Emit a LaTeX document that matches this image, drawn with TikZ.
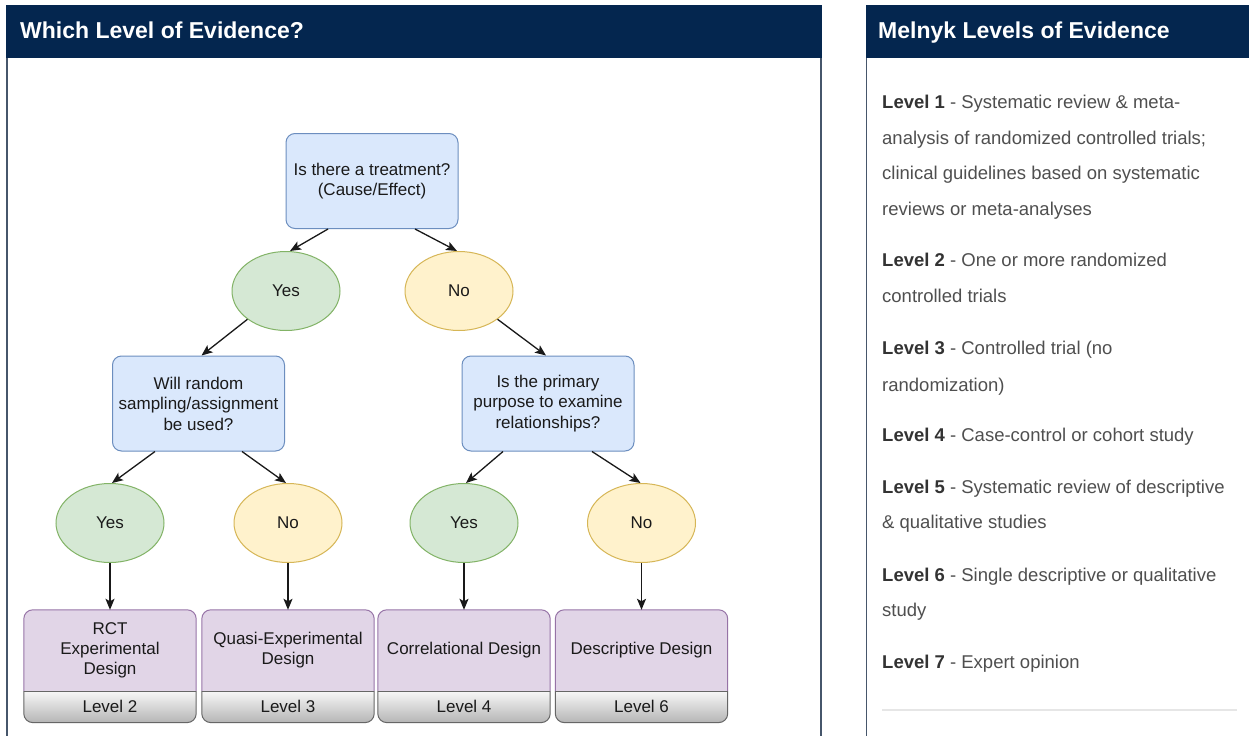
\documentclass[tikz,border=0pt]{standalone}
\usepackage{fontspec}
\setmainfont{Liberation Sans}
\usetikzlibrary{arrows.meta,calc,shapes.geometric}
\definecolor{navy}{HTML}{04264F}
\definecolor{panelborder}{HTML}{46566B}
\definecolor{qfill}{HTML}{DAE8FC}\definecolor{qdraw}{HTML}{6C8EBF}
\definecolor{yfill}{HTML}{D5E8D4}\definecolor{ydraw}{HTML}{82B366}
\definecolor{nfill}{HTML}{FFF2CC}\definecolor{ndraw}{HTML}{D6B656}
\definecolor{pfill}{HTML}{E1D5E7}\definecolor{pdraw}{HTML}{9673A6}
\definecolor{gtop}{HTML}{F7F7F7}\definecolor{gbot}{HTML}{B5B5B5}
\definecolor{gdraw}{HTML}{666666}
\definecolor{txtdark}{HTML}{1A1A1A}
\definecolor{lvbold}{HTML}{333333}
\definecolor{lvtext}{HTML}{4F4F4F}
\definecolor{sepline}{HTML}{E6E6E6}
\newcommand{\designbox}[4]{%
  \node[designpart] (#1) at (#2,650.5) {};
  \node[levelpart, anchor=north] (#1l) at (#1.south) {};
  \begin{scope}
    \clip[rounded corners=9pt] (#1.north west) rectangle (#1l.south east);
    \fill[pfill] (#1.north west) rectangle (#1.south east);
    \shade[top color=gtop, bottom color=gbot] (#1l.north west) rectangle (#1l.south east);
  \end{scope}
  \draw[pdraw, line width=1pt, rounded corners=9pt] (#1.south west) -- (#1.north west) -- (#1.north east) -- (#1.south east);
  \draw[gdraw, line width=1pt, rounded corners=9pt] (#1l.north west) -- (#1l.south west) -- (#1l.south east) -- (#1l.north east);
  \draw[gdraw, line width=1pt] (#1l.north west) -- (#1l.north east);
  \node[designpart] (#1t) at (#1.center) {#3};
  \node[levelpart] (#1lt) at (#1l.center) {#4};
}
\begin{document}
\begin{tikzpicture}[x=1pt,y=-1pt,
  question/.style={draw=qdraw, fill=qfill, rounded corners=9pt, line width=1pt,
    minimum width=172pt, minimum height=95pt, align=center,
    font=\fontsize{17}{20.5}\selectfont, text=txtdark, inner sep=0pt},
  yesnode/.style={ellipse, draw=ydraw, fill=yfill, line width=1pt,
    minimum width=108pt, minimum height=79pt, inner sep=0pt,
    font=\fontsize{17}{20}\selectfont, text=txtdark},
  nonode/.style={yesnode, draw=ndraw, fill=nfill},
  designpart/.style={minimum width=172pt, minimum height=81pt, inner sep=0pt,
    align=center, font=\fontsize{17}{20}\selectfont, text=txtdark},
  levelpart/.style={minimum width=172pt, minimum height=31pt, inner sep=0pt,
    font=\fontsize{17}{20}\selectfont, text=txtdark},
  flow/.style={-{Stealth[length=11pt,width=9pt,inset=2.5pt]}, line width=1.3pt, draw=black!90},
  titletext/.style={font=\fontsize{23}{26}\selectfont\bfseries, text=white,
    anchor=base west, inner sep=0pt},
  lvline/.style={anchor=base west, inner sep=0pt,
    font=\fontsize{18.5}{22}\selectfont, text=lvtext},
]
\useasboundingbox (0,0) rectangle (1249,736);
\fill[white] (0,0) rectangle (1249,736);

% left panel
\fill[navy] (6,5) rectangle (822,58);
\draw[panelborder, line width=1.5pt] (7,58) -- (7,736);
\draw[panelborder, line width=1.5pt] (821,58) -- (821,736);
\node[titletext] (t1) at (20,38) {Which Level of Evidence?};

% right panel
\fill[navy] (866,5) rectangle (1249,58);
\draw[panelborder, line width=1.5pt] (866.5,58) -- (866.5,736);
\node[titletext] (t2) at (878,38) {Melnyk Levels of Evidence};

% flowchart
\node[question] (q1) at (372,181) {Is there a treatment?\\(Cause/Effect)};
\node[yesnode] (y1) at (286,291) {Yes};
\node[nonode] (n1) at (459,291) {No};
\node[question] (q2) at (198.5,403.5) {Will random\\sampling/assignment\\be used?};
\node[question] (q3) at (548,403.5) {Is the primary\\purpose to examine\\relationships?};
\node[yesnode] (y2) at (110,523) {Yes};
\node[nonode] (n2) at (288,523) {No};
\node[yesnode] (y3) at (464,523) {Yes};
\node[nonode] (n3) at (641.5,523) {No};

\designbox{d1}{110}{RCT\\Experimental\\Design}{Level 2}
\designbox{d2}{288}{Quasi-Experimental\\Design}{Level 3}
\designbox{d3}{464}{Correlational Design}{Level 4}
\designbox{d4}{641.5}{Descriptive Design}{Level 6}

\draw[flow] ([xshift=-44pt]q1.south) -- ([xshift=4pt]y1.north);
\draw[flow] ([xshift=43pt]q1.south) -- ([xshift=-2pt]n1.north);
\draw[flow] (y1.south west) -- ([xshift=3pt]q2.north);
\draw[flow] (n1.south east) -- ([xshift=-2pt]q3.north);
\draw[flow] ([xshift=-43.5pt]q2.south) -- ([xshift=2pt]y2.north);
\draw[flow] ([xshift=43.5pt]q2.south) -- ([xshift=-2pt]n2.north);
\draw[flow] ([xshift=-45pt]q3.south) -- ([xshift=2pt]y3.north);
\draw[flow] ([xshift=44pt]q3.south) -- ([xshift=-1pt]n3.north);
\draw[flow] (y2.south) -- (d1.north);
\draw[flow] (n2.south) -- (d2.north);
\draw[flow] (y3.south) -- (d3.north);
\draw[flow] (n3.south) -- (d4.north);

% levels list
\node[lvline] (r1) at (882,108) {\textcolor{lvbold}{\bfseries Level 1} - Systematic review \& meta-};
\node[lvline] (r2) at (882,144) {analysis of randomized controlled trials;};
\node[lvline] (r3) at (882,179) {clinical guidelines based on systematic};
\node[lvline] (r4) at (882,215) {reviews or meta-analyses};
\node[lvline] (r5) at (882,266) {\textcolor{lvbold}{\bfseries Level 2} - One or more randomized};
\node[lvline] (r6) at (882,302) {controlled trials};
\node[lvline] (r7) at (882,354) {\textcolor{lvbold}{\bfseries Level 3} - Controlled trial (no};
\node[lvline] (r8) at (882,391) {randomization)};
\node[lvline] (r9) at (882,441) {\textcolor{lvbold}{\bfseries Level 4} - Case-control or cohort study};
\node[lvline] (r10) at (882,493) {\textcolor{lvbold}{\bfseries Level 5} - Systematic review of descriptive};
\node[lvline] (r11) at (882,528) {\& qualitative studies};
\node[lvline] (r12) at (882,581) {\textcolor{lvbold}{\bfseries Level 6} - Single descriptive or qualitative};
\node[lvline] (r13) at (882,616) {study};
\node[lvline] (r14) at (882,668) {\textcolor{lvbold}{\bfseries Level 7} - Expert opinion};
\draw[sepline, line width=1.2pt] (882,710) -- (1237,710);
\end{tikzpicture}
\end{document}
